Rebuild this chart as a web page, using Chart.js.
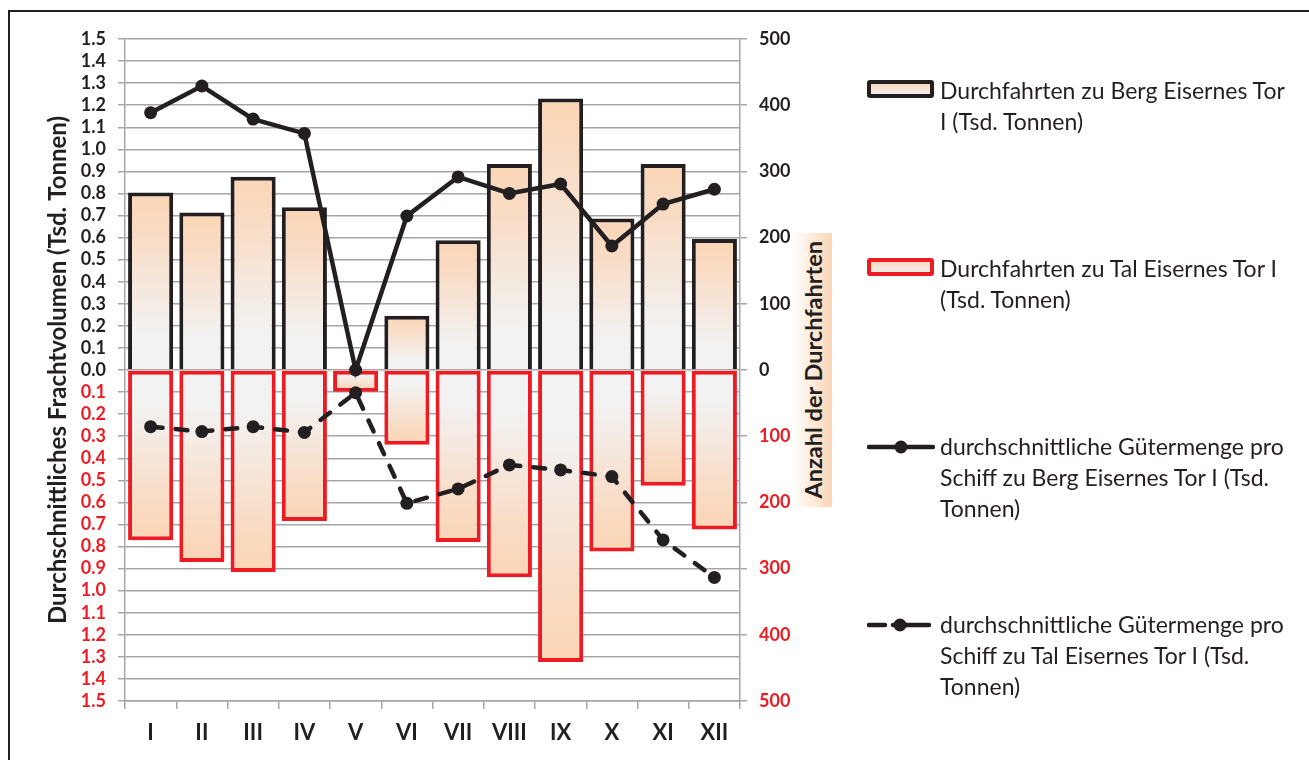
<!DOCTYPE html>
<html lang="de">

<head>
    <meta charset="UTF-8">
    <title>Eisernes Tor I - Durchfahrten</title>
    <script src="https://cdn.jsdelivr.net/npm/chart.js"></script>
    <style>
        body {
            margin: 0;
            width: 1309px;
            height: 760px;
            position: relative;
            overflow: hidden;
            background: #fff;
            font-family: Lato, 'Noto Sans', sans-serif;
            color: #231F20;
        }

        .rahmen {
            position: absolute;
            left: 8px;
            top: 10px;
            width: 1400px;
            height: 900px;
            border-left: 2px solid #231F20;
            border-top: 2px solid #231F20;
        }

        #grafico {
            position: absolute;
            left: 0;
            top: 0;
        }

        .tituloDireita {
            position: absolute;
            left: 793px;
            top: 233px;
            width: 39px;
            height: 274px;
            background: linear-gradient(to right, #ffffff, #FBD5B5);
            display: flex;
            align-items: center;
            justify-content: center;
        }

        .tituloDireita span {
            writing-mode: vertical-rl;
            transform: rotate(180deg);
            font-size: 23.5px;
            font-weight: bold;
            white-space: nowrap;
        }

        .item {
            position: absolute;
            left: 867px;
        }

        .item svg {
            position: absolute;
            left: 0;
        }

        .item .texto {
            position: absolute;
            left: 73px;
            top: 0;
            font-size: 23px;
            line-height: 31px;
            white-space: nowrap;
        }
    </style>
</head>

<body>
    <div class="rahmen"></div>
    <canvas id="grafico" width="1309" height="760"></canvas>

    <div class="tituloDireita"><span>Anzahl der Durchfahrten</span></div>

    <!-- legenda feita a mao, com as quebras de linha do original -->
    <div class="item" style="top:75px">
        <svg width="68" height="20" style="top:5px">
            <defs>
                <linearGradient id="gradLeg" x1="0" y1="0" x2="0" y2="1">
                    <stop offset="0" stop-color="#FBD5B5" />
                    <stop offset="1" stop-color="#F2F2F2" />
                </linearGradient>
            </defs>
            <rect x="2" y="2" width="63" height="14" fill="url(#gradLeg)" stroke="#231F20" stroke-width="4" rx="1" />
        </svg>
        <div class="texto">Durchfahrten zu Berg Eisernes Tor<br>I (Tsd. Tonnen)</div>
    </div>
    <div class="item" style="top:253px">
        <svg width="68" height="20" style="top:5px">
            <rect x="2" y="2" width="63" height="14" fill="url(#gradLeg)" stroke="#ED1C24" stroke-width="4" rx="1" />
        </svg>
        <div class="texto">Durchfahrten zu Tal Eisernes Tor I<br>(Tsd. Tonnen)</div>
    </div>
    <div class="item" style="top:431px">
        <svg width="68" height="20" style="top:6px">
            <line x1="2" y1="10" x2="66" y2="10" stroke="#231F20" stroke-width="4.5" stroke-linecap="round" />
            <circle cx="34" cy="10" r="6.5" fill="#231F20" />
        </svg>
        <div class="texto">durchschnittliche Gütermenge pro<br>Schiff zu Berg Eisernes Tor I (Tsd.<br>Tonnen)</div>
    </div>
    <div class="item" style="top:609px">
        <svg width="68" height="20" style="top:6px">
            <line x1="2" y1="10" x2="18" y2="10" stroke="#231F20" stroke-width="4.5" stroke-linecap="round" />
            <line x1="38" y1="10" x2="62" y2="10" stroke="#231F20" stroke-width="4.5" stroke-linecap="round" />
            <line x1="26" y1="10" x2="40" y2="10" stroke="#231F20" stroke-width="4.5" stroke-linecap="round" />
            <circle cx="33" cy="10" r="6.5" fill="#231F20" />
        </svg>
        <div class="texto">durchschnittliche Gütermenge pro<br>Schiff zu Tal Eisernes Tor I (Tsd.<br>Tonnen)</div>
    </div>

    <script>
        // meses (algarismos romanos)
        const monate = ['I', 'II', 'III', 'IV', 'V', 'VI', 'VII', 'VIII', 'IX', 'X', 'XI', 'XII'];

        // Anzahl der Durchfahrten (eixo da direita) - Tal para baixo, por isso negativo
        const durchfahrtenBerg = [268, 238, 292, 246, 0, 82, 196, 311, 410, 229, 311, 198];
        const durchfahrtenTal = [-257, -290, -305, -228, -33, -113, -260, -313, -441, -274, -175, -241];

        // durchschnittliche Gütermenge pro Schiff (eixo da esquerda, Tsd. Tonnen)
        const mengeBerg = [1.166, 1.287, 1.137, 1.072, 0.0, 0.698, 0.875, 0.80, 0.843, 0.562, 0.752, 0.819];
        const mengeTal = [-0.257, -0.279, -0.257, -0.283, -0.103, -0.604, -0.539, -0.430, -0.453, -0.483, -0.770, -0.940];

        const fonte = "Lato, 'Noto Sans', sans-serif";
        const escuro = '#231F20';
        const vermelho = '#ED1C24';
        const cinza = '#A6A6A6';
        const pessego = '#FBD5B5';
        const claro = '#F2F2F2';

        // degrade de cada barra: pessego na ponta, claro perto do zero
        function preenchimento(context) {
            const chart = context.chart;
            if (!chart.chartArea || context.type !== 'data') {
                return pessego;
            }
            const escala = chart.scales.y2;
            const ponta = escala.getPixelForValue(context.raw);
            const zero = escala.getPixelForValue(0);
            if (Math.abs(ponta - zero) < 1) {
                return pessego;
            }
            const grad = chart.ctx.createLinearGradient(0, ponta, 0, zero);
            grad.addColorStop(0, pessego);
            grad.addColorStop(0.25, '#F9DCC5');
            grad.addColorStop(0.8, claro);
            grad.addColorStop(1, claro);
            return grad;
        }

        function corTick(context) {
            return context.tick.value < -0.0001 ? vermelho : escuro;
        }

        const dados = {
            labels: monate,
            datasets: [
                {
                    type: 'line',
                    label: 'durchschnittliche Gütermenge pro Schiff zu Berg Eisernes Tor I (Tsd. Tonnen)',
                    data: mengeBerg,
                    yAxisID: 'y',
                    borderColor: escuro,
                    backgroundColor: escuro,
                    borderWidth: 4.5,
                    pointRadius: 6.5,
                    pointBorderWidth: 0,
                    pointBackgroundColor: escuro,
                    tension: 0,
                    order: 1
                },
                {
                    type: 'line',
                    label: 'durchschnittliche Gütermenge pro Schiff zu Tal Eisernes Tor I (Tsd. Tonnen)',
                    data: mengeTal,
                    yAxisID: 'y',
                    borderColor: escuro,
                    backgroundColor: escuro,
                    borderWidth: 4.5,
                    borderDash: [12, 13],
                    borderCapStyle: 'round',
                    pointRadius: 6.5,
                    pointBorderWidth: 0,
                    pointBackgroundColor: escuro,
                    tension: 0,
                    order: 1
                },
                {
                    type: 'bar',
                    label: 'Durchfahrten zu Berg Eisernes Tor I (Tsd. Tonnen)',
                    data: durchfahrtenBerg,
                    yAxisID: 'y2',
                    backgroundColor: preenchimento,
                    borderColor: escuro,
                    borderWidth: 4,
                    borderSkipped: 'start',
                    grouped: false,
                    barPercentage: 0.88,
                    categoryPercentage: 1,
                    order: 3
                },
                {
                    type: 'bar',
                    label: 'Durchfahrten zu Tal Eisernes Tor I (Tsd. Tonnen)',
                    data: durchfahrtenTal,
                    yAxisID: 'y2',
                    backgroundColor: preenchimento,
                    borderColor: vermelho,
                    borderWidth: 4,
                    borderSkipped: false,
                    grouped: false,
                    barPercentage: 0.88,
                    categoryPercentage: 1,
                    order: 2
                }
            ]
        };

        const config = {
            type: 'bar',
            data: dados,
            options: {
                responsive: false,
                animation: false,
                layout: {
                    padding: { left: 0, right: 509, top: 39, bottom: 0 }
                },
                plugins: {
                    legend: { display: false },
                    tooltip: { enabled: false }
                },
                scales: {
                    x: {
                        grid: {
                            offset: true,
                            drawOnChartArea: false,
                            drawTicks: true,
                            tickLength: 8,
                            color: cinza,
                            lineWidth: 1.5
                        },
                        border: { color: cinza, width: 1.5 },
                        ticks: {
                            color: escuro,
                            font: { family: fonte, size: 22, weight: 'bold' },
                            padding: 11,
                            maxRotation: 0,
                            autoSkip: false
                        },
                        afterFit: function (s) { s.height = 59; }
                    },
                    y: {
                        position: 'left',
                        min: -1.5,
                        max: 1.5,
                        ticks: {
                            stepSize: 0.1,
                            autoSkip: false,
                            callback: v => Math.abs(v).toFixed(1),
                            color: corTick,
                            font: { family: fonte, size: 18, weight: 'bold' },
                            padding: 12
                        },
                        grid: { color: cinza, lineWidth: 1.5, tickLength: 7 },
                        border: { color: cinza, width: 1.5 },
                        title: {
                            display: true,
                            text: 'Durchschnittliches Frachtvolumen (Tsd. Tonnen)',
                            color: escuro,
                            font: { family: fonte, size: 24, weight: 'bold' },
                            padding: { top: 44, bottom: 0 }
                        },
                        afterFit: function (s) { s.width = 125; }
                    },
                    y2: {
                        position: 'right',
                        min: -500,
                        max: 500,
                        ticks: {
                            stepSize: 100,
                            autoSkip: false,
                            callback: v => Math.abs(v),
                            color: corTick,
                            font: { family: fonte, size: 18, weight: 'bold' },
                            padding: 12
                        },
                        grid: { drawOnChartArea: false, color: cinza, lineWidth: 1.5, tickLength: 7 },
                        border: { color: cinza, width: 1.5 },
                        afterFit: function (s) { s.width = 60; }
                    }
                }
            }
        };

        let meuGrafico = new Chart(document.getElementById('grafico'), config);
    </script>
</body>

</html>
